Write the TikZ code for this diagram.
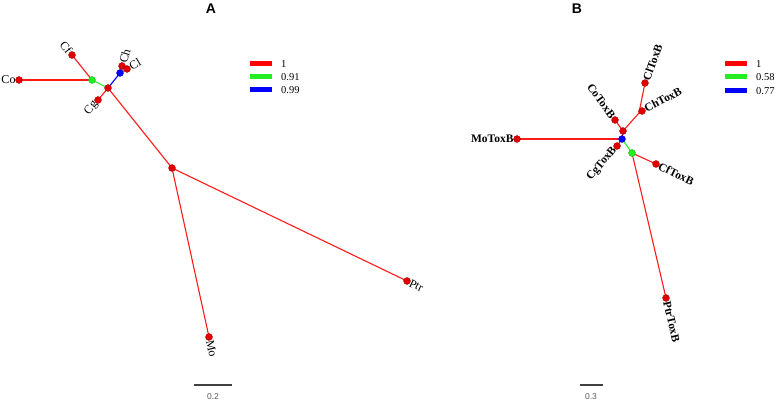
\documentclass[tikz,border=0pt]{standalone}
\usepackage{fontspec}
\setmainfont{Liberation Serif}
\setsansfont{Liberation Sans}
\definecolor{tred}{HTML}{FF1A1A}
\definecolor{dred}{HTML}{E00000}
\definecolor{tgreen}{HTML}{22EE22}
\definecolor{tblue}{HTML}{0000FF}
\begin{document}
\begin{tikzpicture}[x=1pt,y=-1pt,
  edge/.style={line width=1.1pt,draw=tred},
  gedge/.style={line width=1.1pt,draw=tgreen},
  bedge/.style={line width=1.1pt,draw=tblue},
  dot/.style={circle,fill=#1,draw=#1!70!black,line width=0.3pt,inner sep=0pt,minimum size=7pt},
  lbla/.style={font=\fontsize{12}{12}\selectfont,inner sep=0.5pt,outer xsep=3pt},
  lblb/.style={font=\bfseries\fontsize{11.5}{11.5}\selectfont,inner sep=0.5pt,outer xsep=3pt},
  legbar/.style={line width=5pt,draw=#1},
  legtxt/.style={font=\fontsize{10.5}{10.5}\selectfont,anchor=west,inner sep=0pt},
  title/.style={font=\sffamily\bfseries\fontsize{14}{14}\selectfont},
  scalebar/.style={line width=1.3pt,draw=black!75},
  scaletxt/.style={font=\sffamily\fontsize{8.5}{8.5}\selectfont,text=black!65}
]
\useasboundingbox (0,0) rectangle (778,403);
% ---------- Panel A ----------
\node[title] (titleA) at (211,9) {A};
\coordinate (co) at (19,80);
\coordinate (gA) at (92,80);
\coordinate (cf) at (72,55);
\coordinate (rA) at (108,88);
\coordinate (cg) at (98,100);
\coordinate (bA) at (120,73);
\coordinate (ch) at (122,66);
\coordinate (cl) at (127,69);
\coordinate (iA) at (172,168);
\coordinate (mo) at (209,337);
\coordinate (ptr) at (407,281);
\draw[edge] (co) -- (gA);
\draw[edge] (gA) -- (cf);
\draw[gedge] (gA) -- (rA);
\draw[edge] (rA) -- (cg);
\draw[bedge] (rA) -- (bA);
\draw[edge] (bA) -- (ch);
\draw[edge] (bA) -- (cl);
\draw[edge] (rA) -- (iA);
\draw[edge] (iA) -- (mo);
\draw[edge] (iA) -- (ptr);
\foreach \p in {co,cf,cg,ch,cl,rA,iA,mo,ptr} \node[dot=dred] (d\p) at (\p) {};
\node[dot=tgreen] (dgA) at (gA) {};
\node[dot=tblue] (dbA) at (bA) {};
\node[lbla,anchor=east] (lco) at (co) {Co};
\node[lbla,anchor=east,rotate=-51] (lcf) at (cf) {Cf};
\node[lbla,anchor=east,rotate=50] (lcg) at (cg) {Cg};
\node[lbla,anchor=west,rotate=74] (lch) at (ch) {Ch};
\node[lbla,anchor=west,rotate=30] (lcl) at (cl) {Cl};
\node[lbla,anchor=west,rotate=-77.6] (lmo) at (mo) {Mo};
\node[lbla,anchor=west,rotate=-25.7] (lptr) at (ptr) {Ptr};
% legend A
\draw[legbar=red] (250,64) -- (272,64);
\draw[legbar=tgreen] (250,77) -- (272,77);
\draw[legbar=tblue] (250,90) -- (272,90);
\node[legtxt] (la1) at (281,64) {1};
\node[legtxt] (la2) at (281,77) {0.91};
\node[legtxt] (la3) at (281,90) {0.99};
% scale A
\coordinate (sa1) at (194,385);
\coordinate (sa2) at (232,385);
\draw[scalebar] (sa1) -- (sa2);
\node[scaletxt] (sat) at (213,397) {0.2};
% ---------- Panel B ----------
\node[title] (titleB) at (577,9) {B};
\coordinate (moB) at (517,139);
\coordinate (bB) at (622,139);
\coordinate (rB) at (623,131);
\coordinate (coB) at (615,120);
\coordinate (iB) at (639,113);
\coordinate (chB) at (642,111);
\coordinate (clB) at (645,83);
\coordinate (cgB) at (617,146);
\coordinate (gB) at (632,153);
\coordinate (cfB) at (656,164);
\coordinate (ptrB) at (666,298);
\draw[edge] (moB) -- (bB);
\draw[edge] (bB) -- (rB);
\draw[edge] (rB) -- (coB);
\draw[edge] (rB) -- (iB);
\draw[edge] (iB) -- (chB);
\draw[edge] (iB) -- (clB);
\draw[edge] (bB) -- (cgB);
\draw[gedge] (bB) -- (gB);
\draw[edge] (gB) -- (cfB);
\draw[edge] (gB) -- (ptrB);
\foreach \p in {moB,rB,coB,chB,clB,cgB,cfB,ptrB} \node[dot=dred] (d\p) at (\p) {};
\node[dot=tgreen] (dgB) at (gB) {};
\node[dot=tblue] (dbB) at (bB) {};
\node[lblb,anchor=east] (lmoB) at (moB) {MoToxB};
\node[lblb,anchor=east,rotate=-54] (lcoB) at (coB) {CoToxB};
\node[lblb,anchor=west,rotate=28] (lchB) at (chB) {ChToxB};
\node[lblb,anchor=west,rotate=70] (lclB) at (clB) {ClToxB};
\node[lblb,anchor=east,rotate=50] (lcgB) at (cgB) {CgToxB};
\node[lblb,anchor=west,rotate=-26] (lcfB) at (cfB) {CfToxB};
\node[lblb,anchor=west,rotate=-77] (lptrB) at (ptrB) {PtrToxB};
% legend B
\draw[legbar=red] (725,64) -- (747,64);
\draw[legbar=tgreen] (725,77) -- (747,77);
\draw[legbar=tblue] (725,91) -- (747,91);
\node[legtxt] (lb1) at (756,64) {1};
\node[legtxt] (lb2) at (756,77) {0.58};
\node[legtxt] (lb3) at (756,91) {0.77};
% scale B
\coordinate (sb1) at (580,385);
\coordinate (sb2) at (603,385);
\draw[scalebar] (sb1) -- (sb2);
\node[scaletxt] (sbt) at (591,397) {0.3};
\end{tikzpicture}
\end{document}
